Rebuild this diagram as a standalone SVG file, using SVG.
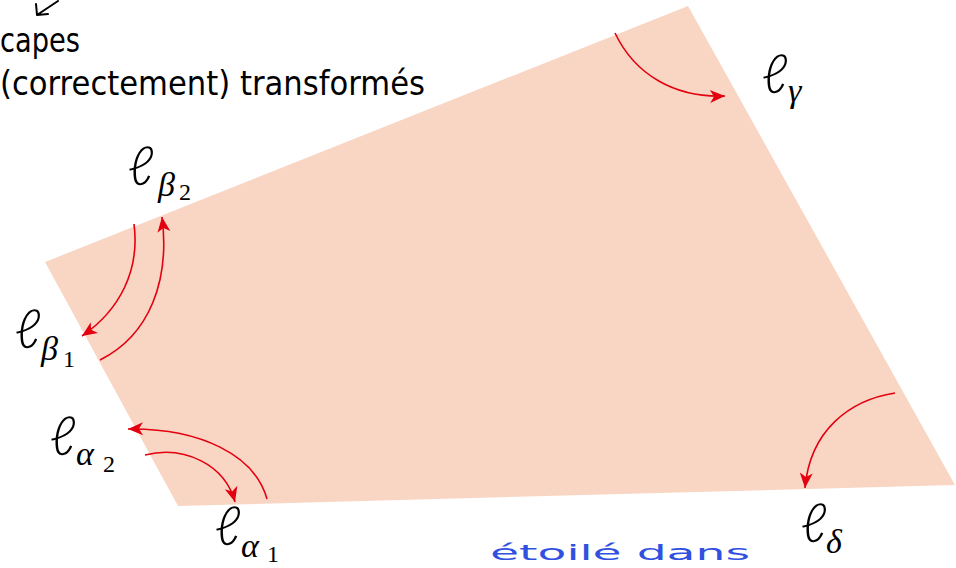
<svg xmlns="http://www.w3.org/2000/svg" width="956" height="568" viewBox="0 0 956 568">
<style>
.arr{fill:none;stroke:#e3000f;stroke-width:1.6}
.l{font-family:"Lato","Liberation Serif","DejaVu Serif",serif;font-style:italic;font-weight:300;font-size:54px;fill:#000}
.g{font-family:"Liberation Serif","DejaVu Serif",serif;font-style:italic;font-size:34px;fill:#000}
.n{font-family:"Liberation Serif","DejaVu Serif",serif;font-size:24px;fill:#000}
.hw{font-family:"DejaVu Sans","Liberation Sans",sans-serif;font-size:34px;fill:#000}
</style>
<defs>
<marker id="ah" markerUnits="userSpaceOnUse" markerWidth="40" markerHeight="40" refX="0" refY="0" orient="auto" overflow="visible">
<path d="M0,0 L-15,-6.5 L-11,0 L-15,6.5 Z" fill="#e3000f"/>
</marker>
</defs>
<rect width="956" height="568" fill="#fff"/>
<g id="quad">
<polygon points="45,262 688,6 955,485 178,506" fill="#f9d6c4"/>
</g>
<g id="notes">
<path d="M58,1 L37,15 M37,15 L36,4 M37,15 L48,14" fill="none" stroke="#000" stroke-width="2" stroke-linecap="round"/>
<text class="hw" x="0" y="52" textLength="80" lengthAdjust="spacingAndGlyphs">capes</text>
<text class="hw" x="0" y="95" textLength="425" lengthAdjust="spacingAndGlyphs">(correctement) transformés</text>
<text x="490" y="560" font-family="DejaVu Sans,sans-serif" font-size="22" fill="#3050e0" textLength="260" lengthAdjust="spacingAndGlyphs">étoilé dans</text>
</g>
<g id="connectors">
<path class="arr" marker-end="url(#ah)" d="M615,33 C635,75 675,98 725,96"/>
<path class="arr" marker-end="url(#ah)" d="M895,393 C850,400 810,430 805,488"/>
<path class="arr" marker-end="url(#ah)" d="M134,224 C140,270 120,310 82,336"/>
<path class="arr" marker-end="url(#ah)" d="M100,360 C150,335 170,280 162,217"/>
<path class="arr" marker-end="url(#ah)" d="M267,499 C255,455 200,428 128,429"/>
<path class="arr" marker-end="url(#ah)" d="M145,455 C185,445 225,465 235,502"/>
</g>
<g id="l-beta2"><text class="l" x="128" y="185">ℓ</text><text class="g" x="158" y="196">β</text><text class="n" x="179" y="200">2</text></g>
<g id="l-gamma"><text class="l" x="762" y="93">ℓ</text><text class="g" x="788" y="102">γ</text></g>
<g id="l-beta1"><text class="l" x="15" y="348">ℓ</text><text class="g" x="41" y="360">β</text><text class="n" x="63" y="367">1</text></g>
<g id="l-alpha2"><text class="l" x="50" y="455">ℓ</text><text class="g" x="76" y="465">α</text><text class="n" x="103" y="472">2</text></g>
<g id="l-alpha1"><text class="l" x="215" y="545">ℓ</text><text class="g" x="241" y="557">α</text><text class="n" x="267" y="562">1</text></g>
<g id="l-delta"><text class="l" x="801" y="542">ℓ</text><text class="g" x="826" y="553">δ</text></g>
</svg>
